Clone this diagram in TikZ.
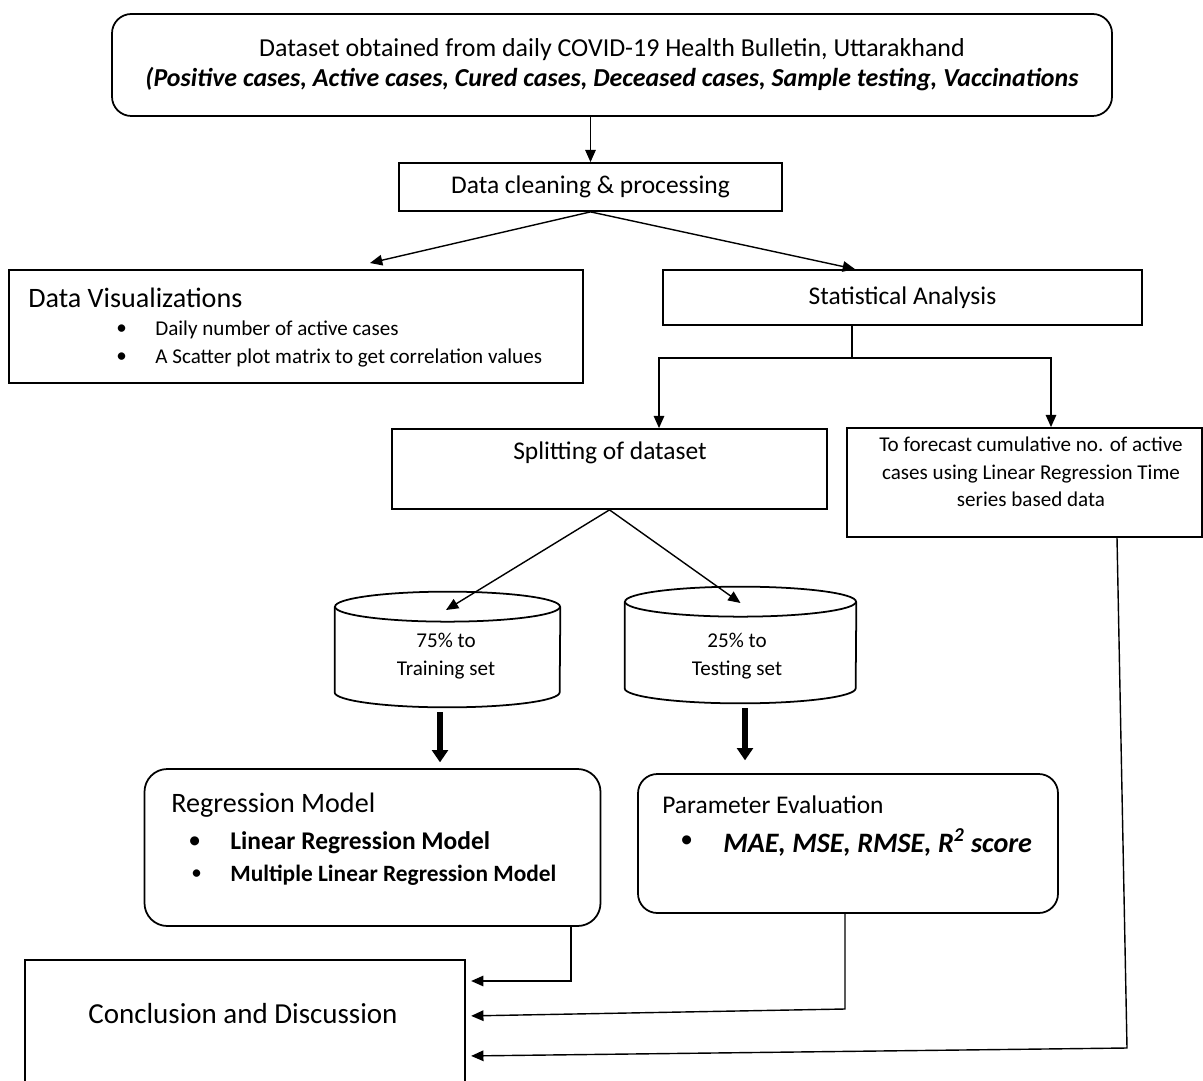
\documentclass[tikz,border=0pt]{standalone}
\usepackage{fontspec}
\setmainfont{Carlito}
\usetikzlibrary{arrows.meta}

\newcommand{\pxu}{0.02cm}
\newcommand{\fmain}{\fontsize{14.5pt}{17pt}\selectfont}
\newcommand{\fbig}{\fontsize{16pt}{19pt}\selectfont}
\newcommand{\fsmall}{\fontsize{12pt}{15.6pt}\selectfont}

\tikzset{
  box/.style={draw, line width=1pt, inner sep=0pt, align=center},
  rbox/.style={box, rounded corners=11pt},
  db/.style={inner sep=0pt},
  dbline/.style={line width=1pt},
  txt/.style={anchor=west, inner sep=0pt},
  arr/.style={-{Triangle[length=7pt,width=6pt]}, line width=0.8pt},
  fat/.style={-{Triangle[length=7pt,width=9pt]}, line width=3.5pt},
  line/.style={line width=0.8pt}
}

\begin{document}
\begin{tikzpicture}[x=0.02cm, y=-0.02cm, font=\fmain]
    \useasboundingbox[fill=white] (0,0) rectangle (1203,1081);

    % boxes
    \node[rbox, minimum width=1000*\pxu, minimum height=102*\pxu,
          font=\fontsize{14.75pt}{17pt}\selectfont] (top) at (612,65)
        {Dataset obtained from daily COVID-19 Health Bulletin, Uttarakhand\\
         \textbf{\textit{(Positive cases, Active cases, Cured cases, Deceased cases, Sample testing, Vaccinations}}};
    \node[box, minimum width=383*\pxu, minimum height=48*\pxu] (clean) at (590.5,187) {Data cleaning \& processing};
    \node[box, minimum width=574*\pxu, minimum height=113*\pxu] (viz) at (296,326.5) {};
    \node[box, minimum width=479*\pxu, minimum height=55*\pxu] (stats) at (902.5,297.5) {Statistical Analysis};
    \node[box, minimum width=435*\pxu, minimum height=80*\pxu] (split) at (609.5,469) {};
    \node[box, minimum width=355*\pxu, minimum height=109*\pxu] (fc) at (1024.5,482.5) {};
    \node[rbox, rounded corners=13pt, minimum width=456*\pxu, minimum height=157*\pxu] (reg) at (372.5,847.5) {};
    \node[rbox, minimum width=420*\pxu, minimum height=139*\pxu] (param) at (848,843.5) {};
    \node[box, minimum width=440*\pxu, minimum height=160*\pxu] (conc) at (245,1040) {};

    % data sets (cylinders)
    \node[db, minimum width=225*\pxu, minimum height=115*\pxu] (cyl1) at (447.5,649.5) {};
    \node[db, minimum width=231*\pxu, minimum height=116*\pxu] (cyl2) at (740.5,645) {};
    \draw[dbline] ([yshift=-15*\pxu]cyl1.north west) -- ([yshift=15*\pxu]cyl1.south west)
        arc[start angle=180, end angle=360, x radius=112.5*\pxu, y radius=15*\pxu]
        -- ([yshift=-15*\pxu]cyl1.north east);
    \draw[dbline] ([yshift=-15*\pxu]cyl1.north) ellipse [x radius=112.5*\pxu, y radius=15*\pxu];
    \draw[dbline] ([yshift=-15*\pxu]cyl2.north west) -- ([yshift=15*\pxu]cyl2.south west)
        arc[start angle=180, end angle=360, x radius=115.5*\pxu, y radius=15*\pxu]
        -- ([yshift=-15*\pxu]cyl2.north east);
    \draw[dbline] ([yshift=-15*\pxu]cyl2.north) ellipse [x radius=115.5*\pxu, y radius=15*\pxu];

    % texts inside boxes
    \node[txt, font=\fbig] (vizT) at (28,298) {Data Visualizations};
    \foreach \y/\t in {330/Daily number of active cases, 358/A Scatter plot matrix to get correlation values} {
        \node[txt, font=\fsmall] at (116,\y) {•};
        \node[txt, font=\fsmall] at (155,\y) {\t};
    }
    \node (splitT) at (610,453) {Splitting of dataset};
    \node[font=\fsmall, align=center] (fcT) at (1031,472)
        {To forecast cumulative no. of active\\cases using Linear Regression Time\\series based data};
    \node[font=\fsmall, align=center] (cyl1T) at (446,656) {75\% to\\Training set};
    \node[font=\fsmall, align=center] (cyl2T) at (737,656) {25\% to\\Testing set};
    \node[txt, font=\fbig] (regT) at (171,805) {Regression Model};
    \node[txt] at (188,843) {•};
    \node[txt, font=\fmain\bfseries] (lrm) at (230,843) {Linear Regression Model};
    \node[txt, font=\fsmall] at (191,875) {•};
    \node[txt, font=\fontsize{13.3pt}{15pt}\selectfont\bfseries] (mlrm) at (230,875) {Multiple Linear Regression Model};
    \node[txt] (paramT) at (662,805) {Parameter Evaluation};
    \node[txt] at (680,842) {•};
    \node[txt, font=\fbig\bfseries\itshape] (metrics) at (723,842) {MAE, MSE, RMSE, R\textsuperscript{2} score};
    \node[txt, font=\fontsize{16.5pt}{19pt}\selectfont] (concT) at (88,1014) {Conclusion and Discussion};

    % connectors
    \draw[arr] (clean.north |- top.south) -- (clean.north);
    \draw[arr] (clean.south) -- (370,263);
    \draw[arr] (clean.south) -- (stats.north -| 855,0);
    \coordinate (br) at (852,358);
    \draw[line] (stats.south -| br) -- (br);
    \draw[arr] (br) -| (split.north -| 659,0);
    \draw[arr] (br) -| (fc.north -| 1051,0);
    \draw[arr] (split.south) -- (cyl1T |- 0,610);
    \draw[arr] (split.south) -- (cyl2 |- 0,603);
    \draw[fat] (cyl1.south -| 440,0) ++(0,5) -- ++(0,50);
    \draw[fat] (cyl2.south -| 745,0) ++(0,5) -- ++(0,52);
    \draw[arr, shorten >=3pt] (reg.south -| 571,0) -- (571,981) -- (conc.east |- 0,981);
    \draw[arr, shorten >=3pt] (param.south -| 845,0) -- (845,1009) -- (conc.east |- 0,1016);
    \draw[arr, shorten >=3pt] (fc.south -| 1117,0) -- (1127,1048) -- (conc.east |- 0,1056);
\end{tikzpicture}
\end{document}
